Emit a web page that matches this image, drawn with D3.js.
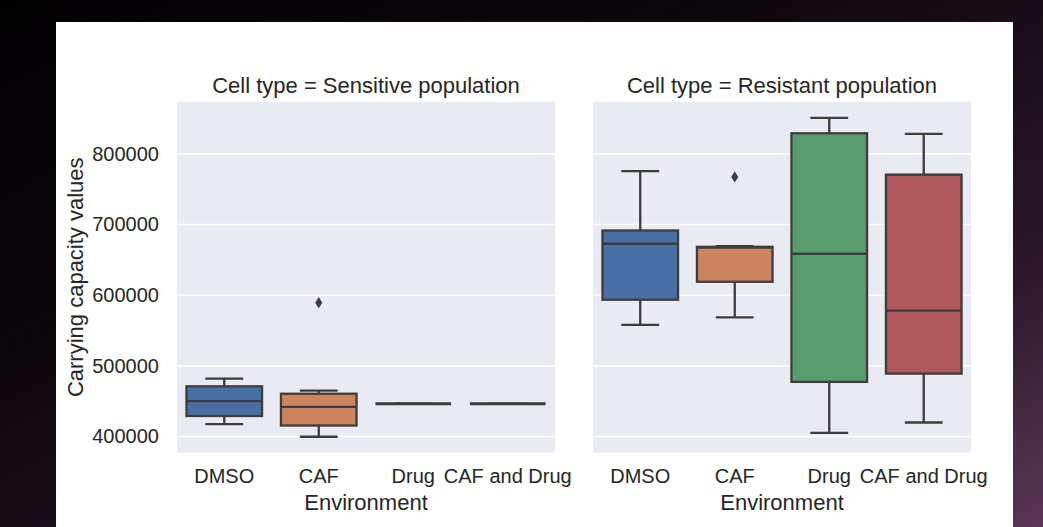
<!DOCTYPE html>
<html>
<head>
<meta charset="utf-8">
<script src="https://cdn.jsdelivr.net/npm/d3@7"></script>
<style>
  html, body { margin: 0; padding: 0; background: #000; }
  svg { display: block; }
  text { font-family: "Liberation Sans", Arial, sans-serif; fill: #262626; }
</style>
</head>
<body>
<svg id="chart" width="1043" height="527"></svg>
<script>
// ---- data ----
const environments = ["DMSO", "CAF", "Drug", "CAF and Drug"];
const cellTypes = ["Sensitive population", "Resistant population"];
const yTicks = [400000, 500000, 600000, 700000, 800000];
const boxColors = ["#4a6fa5", "#cc8460", "#5a9e6f", "#b0575b"];

// [whiskerLow, Q1, median, Q3, whiskerHigh]
const sensitiveStats = [
  [417400, 429000, 450000, 471000, 482000],
  [399600, 415500, 442000, 460500, 465000],
  [446200, 446200, 446200, 446200, 446200],
  [446200, 446200, 446200, 446200, 446200]
];
const sensitiveOutliers = [[], [589400], [], []];

const resistantStats = [
  [557900, 593600, 672800, 691600, 775500],
  [568600, 619000, 667500, 668500, 669500],
  [405200, 477300, 658700, 829200, 850900],
  [419800, 489000, 578100, 770700, 828300]
];
const resistantOutliers = [[], [767500], [], []];

const panels = [
  { title: "Cell type = " + cellTypes[0], stats: sensitiveStats, outliers: sensitiveOutliers, left: 177, showY: true },
  { title: "Cell type = " + cellTypes[1], stats: resistantStats, outliers: resistantOutliers, left: 593, showY: false }
];

// ---- layout ----
const W = 1043, H = 527;
const svg = d3.select("#chart");

// background gradient
const defs = svg.append("defs");
const grad = defs.append("linearGradient").attr("id", "bg")
  .attr("x1", "0%").attr("y1", "0%").attr("x2", "100%").attr("y2", "100%");
grad.append("stop").attr("offset", "0%").attr("stop-color", "#020102");
grad.append("stop").attr("offset", "35%").attr("stop-color", "#0c070b");
grad.append("stop").attr("offset", "75%").attr("stop-color", "#2c1828");
grad.append("stop").attr("offset", "100%").attr("stop-color", "#5a3655");
svg.append("rect").attr("width", W).attr("height", H).attr("fill", "url(#bg)");

// white card
svg.append("rect").attr("x", 56).attr("y", 22).attr("width", 957).attr("height", 505).attr("fill", "#ffffff");

const panelW = 378, plotTop = 102, plotBottom = 452.5;
const y = d3.scaleLinear().domain([377300, 873500]).range([plotBottom, plotTop]);
const lineColor = "#3d3d3d";
const lw = 2.3;

panels.forEach((p, pi) => {
  const g = svg.append("g");
  const x = d3.scaleBand().domain(environments).range([p.left, p.left + panelW]).paddingInner(0).paddingOuter(0);

  // plot background
  g.append("rect").attr("x", p.left).attr("y", plotTop).attr("width", panelW).attr("height", plotBottom - plotTop).attr("fill", "#eaeaf2");

  // grid
  g.selectAll(".grid").data(yTicks).enter().append("line")
    .attr("x1", p.left).attr("x2", p.left + panelW)
    .attr("y1", d => y(d)).attr("y2", d => y(d))
    .attr("stroke", "#ffffff").attr("stroke-width", 1.6);

  // y axis
  if (p.showY) {
    const ya = g.append("g").attr("transform", `translate(${p.left},0)`)
      .call(d3.axisLeft(y).tickValues(yTicks).tickSize(0).tickPadding(18).tickFormat(d3.format("d")));
    ya.select(".domain").remove();
    ya.selectAll("text").style("font-size", "20px").attr("fill", "#262626");
    svg.append("text").attr("transform", `translate(83,${(plotTop + plotBottom) / 2}) rotate(-90)`)
      .attr("text-anchor", "middle").style("font-size", "22px").text("Carrying capacity values");
  }

  // x axis
  const xa = g.append("g").attr("transform", `translate(0,${plotBottom})`)
    .call(d3.axisBottom(x).tickSize(0).tickPadding(16));
  xa.select(".domain").remove();
  xa.selectAll("text").style("font-size", "20px").attr("fill", "#262626");

  g.append("text").attr("x", p.left + panelW / 2).attr("y", 510)
    .attr("text-anchor", "middle").style("font-size", "22px").text("Environment");

  g.append("text").attr("x", p.left + panelW / 2).attr("y", 93)
    .attr("text-anchor", "middle").style("font-size", "22px").text(p.title);

  // boxes
  const bw = x.bandwidth() * 0.8;
  environments.forEach((env, i) => {
    const s = p.stats[i];
    const cx = x(env) + x.bandwidth() / 2;
    const bg = g.append("g");
    const flat = s[0] === s[4];
    // whiskers
    bg.append("line").attr("x1", cx).attr("x2", cx).attr("y1", y(s[0])).attr("y2", y(s[1]))
      .attr("stroke", lineColor).attr("stroke-width", lw);
    bg.append("line").attr("x1", cx).attr("x2", cx).attr("y1", y(s[3])).attr("y2", y(s[4]))
      .attr("stroke", lineColor).attr("stroke-width", lw);
    // caps
    [s[0], s[4]].forEach(v => {
      bg.append("line").attr("x1", cx - bw / 4).attr("x2", cx + bw / 4).attr("y1", y(v)).attr("y2", y(v))
        .attr("stroke", lineColor).attr("stroke-width", lw);
    });
    // box
    bg.append("rect").attr("x", cx - bw / 2).attr("width", bw)
      .attr("y", y(s[3])).attr("height", Math.max(0, y(s[1]) - y(s[3])))
      .attr("fill", boxColors[i]).attr("stroke", lineColor).attr("stroke-width", lw);
    // median
    bg.append("line").attr("x1", cx - bw / 2).attr("x2", cx + bw / 2).attr("y1", y(s[2])).attr("y2", y(s[2]))
      .attr("stroke", lineColor).attr("stroke-width", flat ? 3 : lw);
    // outliers
    p.outliers[i].forEach(v => {
      bg.append("path").attr("d", d3.symbol(d3.symbolDiamond, 36)())
        .attr("transform", `translate(${cx},${y(v)}) scale(1.1,1)`)
        .attr("fill", lineColor);
    });
  });
});
</script>
</body>
</html>
